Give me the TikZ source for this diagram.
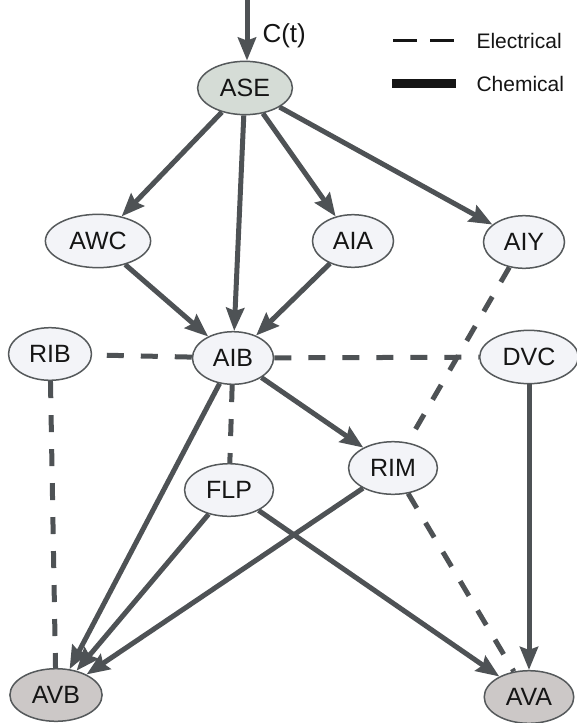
\documentclass[tikz,border=0pt]{standalone}
\usepackage{fontspec}
\setmainfont{Liberation Sans}
\usetikzlibrary{shapes.geometric,arrows.meta}
\definecolor{edgegray}{HTML}{4E5255}
\definecolor{bordergray}{HTML}{55595B}
\definecolor{cellfill}{HTML}{F3F4F8}
\definecolor{sensefill}{HTML}{D5DCD6}
\definecolor{motorfill}{HTML}{CCC8C7}
\definecolor{inkblack}{HTML}{151515}

\begin{document}
\begin{tikzpicture}[x=1pt, y=-1pt,
	neuron/.style={ellipse, draw=bordergray, line width=1.5pt, fill=cellfill,
		inner xsep=8.5pt, inner ysep=10pt, text=inkblack,
		font=\fontsize{25}{25}\selectfont},
	chem/.style={draw=edgegray, line width=5pt,
		-{Stealth[length=23pt, width=18pt, inset=3pt]}},
	elec/.style={draw=edgegray, line width=5pt, dash pattern=on 17pt off 17pt},
	legendtext/.style={anchor=base west, text=inkblack, font=\fontsize{21}{21}\selectfont}]

	\useasboundingbox (0,0) rectangle (576,723);

	% sensory and inter neurons
	\node[neuron, fill=sensefill] (ASE) at (245,88) {ASE};
	\node[neuron] (AWC) at (98,241) {AWC};
	\node[neuron] (AIA) at (353,241) {AIA};
	\node[neuron] (AIY) at (524,242) {AIY};
	\node[neuron] (RIB) at (50,354) {RIB};
	\node[neuron] (AIB) at (233,358) {AIB};
	\node[neuron] (DVC) at (529,357) {DVC};
	\node[neuron] (RIM) at (393,468) {RIM};
	\node[neuron] (FLP) at (229,490) {FLP};
	% motor neurons
	\node[neuron, fill=motorfill] (AVB) at (56,695) {AVB};
	\node[neuron, fill=motorfill] (AVA) at (529,697) {AVA};

	% stimulus
	\coordinate (stim) at (247,0);
	\draw[chem] (stim) -- (stim |- ASE.north);
	\node[anchor=base west, text=inkblack, font=\fontsize{26}{26}\selectfont] (Ct) at (259,42) {C(t)};

	% chemical synapses
	\draw[chem] (ASE) -- (AWC);
	\draw[chem] (ASE) -- (AIB);
	\draw[chem] (ASE) -- (AIA);
	\draw[chem] (ASE) -- (AIY);
	\draw[chem] (AWC) -- (AIB);
	\draw[chem] (AIA) -- (AIB);
	\draw[chem] (AIB) -- (RIM);
	\draw[chem] (AIB) -- (AVB);
	\draw[chem] (FLP) -- (AVB);
	\draw[chem] (RIM) -- (AVB);
	\draw[chem] (FLP) -- (AVA);
	\draw[chem] (DVC) -- (AVA);

	% gap junctions
	\draw[elec] (AIB) -- (RIB);
	\draw[elec] (AIB) -- (DVC);
	\draw[elec] (AIB) -- (FLP);
	\draw[elec] (AIY) -- (RIM);
	\draw[elec] (RIB) -- (AVB);
	\draw[elec] (RIM) -- (AVA);

	% legend
	\coordinate (elecA) at (393,40);
	\coordinate (elecB) at (455,40);
	\coordinate (chemA) at (392,83);
	\coordinate (chemB) at (456,83);
	\draw[inkblack, line width=3pt, dash pattern=on 24pt off 13pt] (elecA) -- (elecB);
	\draw[inkblack, line width=9pt] (chemA) -- (chemB);
	\node[legendtext] (elecL) at (473,48) {Electrical};
	\node[legendtext] (chemL) at (473,91) {Chemical};

\end{tikzpicture}
\end{document}
